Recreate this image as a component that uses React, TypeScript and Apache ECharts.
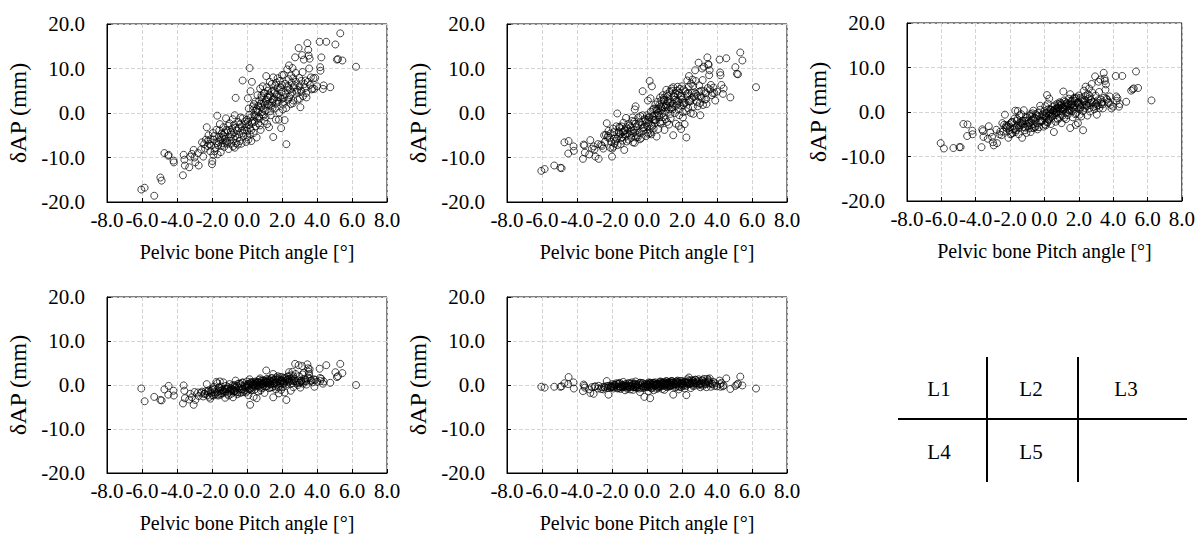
import React, { useEffect, useRef } from "react";
import * as echarts from "echarts";

// Pelvic bone pitch angle [deg] (shared by all five lumbar levels)
const pitch = [
  -6.04,-5.85,-5.30,-4.95,-4.88,-4.72,-4.48,-4.50,-4.20,-4.18,
  -3.66,-3.62,-3.58,-3.55,-3.30,-3.24,-3.05,-3.00,-2.95,-2.76,
  -2.80,-2.57,-2.45,-2.30,-2.25,-2.20,-2.10,-2.00,-1.98,-1.90,
  -1.85,-1.75,-1.70,-1.65,-1.60,-1.55,-1.50,-1.45,-1.40,-1.35,
  -1.30,-1.25,-1.20,-1.15,-1.10,-1.05,-1.00,-0.95,-0.90,-0.85,
  -0.80,-0.75,-0.70,-0.70,-0.65,-0.65,-0.55,-0.50,-0.45,-0.40,
  -0.25,-0.30,-0.25,-0.20,-0.15,-0.10,-0.05,0.00,0.00,0.05,
  0.08,0.10,0.12,0.15,0.18,0.20,0.22,0.25,0.28,0.30,
  0.35,0.38,0.40,0.45,0.50,0.55,0.60,0.62,0.65,0.70,
  0.72,0.75,0.78,0.80,0.85,0.88,0.90,0.95,1.00,1.00,
  1.05,1.10,1.12,1.15,1.20,1.25,1.30,1.32,1.35,1.40,
  1.45,1.50,1.50,1.55,1.60,1.62,1.65,1.70,1.75,1.80,
  1.82,1.85,1.90,1.95,2.00,2.00,2.05,2.05,2.10,2.15,
  2.20,2.25,2.30,2.35,2.40,2.45,2.50,2.55,2.60,2.65,
  2.75,2.80,2.85,2.95,3.00,3.05,3.10,3.15,3.20,3.25,
  3.30,3.35,3.40,3.45,3.50,3.52,3.55,3.60,3.65,3.75,
  3.80,3.85,3.90,4.00,4.15,4.18,4.20,4.25,4.34,4.38,
  4.53,4.76,5.05,5.14,5.20,5.33,5.45,6.23,-2.35,-2.15,
  -1.95,-1.80,-1.62,-1.42,-1.28,-1.12,-0.92,-0.78,-0.58,-0.42,
  -0.22,-0.02,0.32,0.52,0.68,0.92,1.08,1.22,1.38,1.58,
  1.72,1.92,2.12,2.28,2.48,2.68,2.90,3.12,-2.62,-3.15,
  -2.40,-2.22,-2.05,-1.88,-1.72,-1.58,-1.48,-1.38,-1.22,-1.08,
  -0.98,-0.88,-0.72,-0.62,-0.48,-0.38,-0.28,-0.12,0.02,0.14,
  0.24,0.34,0.44,0.48,0.58,0.64,0.74,0.82,0.86,0.96,
  1.02,1.06,1.14,1.18,1.28,1.34,1.42,1.48,1.54,1.64,
  1.68,1.78,1.84,1.88,1.98,2.08,2.18,2.24,2.32,2.38,
  2.42,2.52,2.58,2.62,2.72,2.78,2.88,2.98,3.08,3.18,
  3.28,3.38,3.48,3.58,3.70,-1.92,-1.52,-1.18,-0.68,-0.32,
  0.06,0.42,0.78,1.16,1.46,1.76,2.02,2.36,2.64,3.02,
  -2.50,-2.08,-1.68,-1.32,-0.82,-0.52,0.16,0.56,0.94,1.26,
];

// δAP (mm) per level
const apL1 = [
  -17.2,-16.8,-18.6,-14.5,-15.2,-9.0,-9.4,-9.6,-10.7,-11.1,
  -14.0,-9.4,-10.5,-11.8,-12.2,-9.8,-8.3,-10.0,-11.1,-11.8,
  -9.0,-6.6,-7.0,-3.2,-7.4,-5.0,-8.6,-11.5,-10.8,-6.0,
  -8.6,-3.8,-0.6,-7.2,-5.4,-2.5,-8.8,-4.6,-6.8,-3.2,
  -7.6,-5.8,-1.2,-6.3,-4.0,-8.1,-2.3,-5.3,-6.9,-3.5,
  -7.5,-4.4,-0.5,-7.8,-3.3,3.4,-5.6,-2.0,-4.8,-6.3,
  7.3,-3.0,-1.2,-5.2,-3.8,-2.5,-6.5,-1.5,-4.0,3.3,
  -6.0,1.0,-2.7,10.1,-3.5,4.9,-1.0,-6.3,7.0,-2.2,
  0.8,-4.5,2.0,-0.8,-3.0,-5.5,4.0,0.3,-2.3,2.8,
  -1.2,5.5,-3.8,1.3,3.5,-0.3,6.0,2.2,4.5,-1.8,
  0.5,8.3,3.0,-2.5,5.0,1.8,7.0,3.8,-0.5,4.8,
  2.3,8.0,-5.4,3.2,1.0,6.2,-1.5,4.2,7.8,2.5,
  -1.5,5.3,3.5,-3.4,8.5,6.3,0.8,1.9,8.6,-1.6,
  4.2,-7.0,9.8,3.0,10.7,5.3,2.0,6.8,10.1,2.8,
  12.5,7.0,4.8,14.6,6.0,1.3,7.2,13.0,3.8,12.0,
  5.6,7.3,3.5,15.7,14.2,12.9,10.0,6.3,8.0,5.5,
  7.8,5.4,7.9,6.0,16.0,10.3,9.5,12.5,5.4,6.2,
  16.0,5.8,15.4,12.0,12.1,17.9,11.8,10.4,-6.0,-7.0,
  -4.5,-7.8,-6.5,-5.6,-4.4,-6.9,-4.2,-5.9,-3.9,-2.6,
  -4.6,-3.2,-1.8,0.5,-0.8,1.0,2.6,3.5,1.6,4.5,
  2.8,5.8,3.5,6.0,4.0,5.8,3.0,4.8,-8.2,-9.2,
  -8.0,-6.2,-7.3,-5.2,-6.8,-3.9,-7.4,-4.9,-6.6,-2.9,
  -6.2,-4.8,-2.6,-6.8,-3.4,-1.0,-4.0,-1.9,-5.4,-0.4,
  -3.9,1.5,-2.0,2.6,-1.2,1.6,-2.8,3.9,0.2,4.4,
  1.8,-0.9,5.8,2.0,4.1,0.4,6.5,3.0,5.0,2.1,
  6.8,3.6,0.1,7.2,4.7,2.5,6.6,1.1,5.1,7.6,
  3.6,8.4,4.6,2.2,6.2,9.0,5.2,7.9,5.0,9.2,
  6.5,4.5,7.0,12.2,5.3,-9.4,-6.1,-3.8,-5.2,-6.9,
  -2.0,-0.4,2.1,3.6,1.2,5.6,3.2,5.8,7.8,3.2,
  -9.8,-5.9,-9.3,-5.3,-1.4,-7.1,-4.8,0.9,-0.6,-3.2,
];
const apL2 = [
  -13.0,-12.6,-11.8,-12.3,-12.4,-6.6,-6.3,-9.1,-7.5,-8.5,
  -10.3,-7.1,-7.3,-8.9,-9.3,-6.1,-7.5,-8.2,-9.8,-10.3,
  -7.0,-7.4,-5.0,-2.3,-5.5,-4.0,-7.8,-9.8,-8.0,-5.8,
  -6.9,-3.0,-0.1,-5.3,-4.5,-3.3,-7.0,-3.0,-6.2,-2.2,
  -8.3,-4.8,-1.1,-6.4,-3.6,-6.0,-2.8,-4.2,-5.6,-1.8,
  -6.6,-3.8,0.8,-6.7,-2.4,1.5,-5.0,-1.0,-4.4,-5.9,
  4.9,-2.7,-0.5,-4.0,-3.2,-1.6,-5.2,-0.5,-3.0,2.8,
  -4.7,-1.0,-2.0,7.2,-4.5,3.3,0.3,-4.8,6.0,-2.9,
  -1.5,-3.5,1.0,-2.3,-1.5,-5.3,2.5,0.0,-3.6,1.8,
  -1.0,3.5,-2.4,0.6,1.0,-1.9,4.0,2.9,3.0,-3.8,
  0.3,5.2,2.0,-2.0,3.8,0.8,4.8,2.2,-1.2,5.5,
  1.3,5.8,-5.0,3.6,0.0,4.4,-2.4,2.7,5.9,0.8,
  -2.9,4.5,1.7,-3.6,6.0,3.0,-1.0,0.2,5.3,-2.5,
  2.3,-5.5,7.3,1.1,8.3,3.0,0.0,4.5,7.5,-0.2,
  9.6,4.3,2.5,11.3,4.8,-0.5,5.0,10.0,1.8,10.4,
  3.0,4.5,2.0,12.5,11.0,10.8,8.5,5.3,6.3,4.5,
  5.7,4.5,2.8,4.8,12.0,9.1,8.5,6.3,4.3,5.5,
  12.3,3.5,10.3,8.8,8.7,13.6,11.8,5.8,-4.9,-5.6,
  -3.5,-6.3,-4.2,-5.4,-3.9,-4.6,-3.2,-4.5,-3.0,-2.0,
  -3.3,-2.2,-0.8,0.9,-0.5,1.4,1.6,2.6,1.0,3.0,
  1.9,3.8,2.2,4.3,2.6,3.6,1.5,3.3,-7.1,-8.0,
  -6.5,-5.1,-6.5,-4.3,-5.8,-3.1,-5.7,-4.2,-5.3,-2.5,
  -4.9,-4.0,-1.9,-5.5,-2.6,-0.7,-3.5,-1.3,-4.4,-0.9,
  -2.7,0.8,-1.6,1.9,-0.6,1.0,-2.1,2.8,-0.2,3.4,
  1.2,-1.4,4.2,1.3,3.1,-0.2,5.0,2.1,3.9,1.6,
  5.0,2.6,-0.5,5.4,3.6,1.8,4.9,0.4,3.8,5.9,
  2.7,6.6,3.4,1.4,4.6,7.2,3.8,6.2,3.7,7.4,
  4.9,3.1,5.6,9.6,4.0,-7.6,-4.7,-3.2,-4.4,-5.6,
  -1.5,-0.6,1.5,2.7,0.8,4.1,2.4,4.5,6.1,2.2,
  -8.0,-4.6,-7.2,-4.1,-1.0,-5.4,-3.7,0.6,-0.9,-2.6,
];
const apL3 = [
  -7.0,-8.2,-8.1,-7.9,-7.9,-2.7,-2.8,-5.4,-4.2,-5.0,
  -7.9,-3.9,-4.3,-5.6,-6.0,-3.2,-5.6,-6.8,-7.5,-7.0,
  -4.0,-4.4,-2.5,-0.6,-3.4,-3.6,-5.8,-3.4,-5.0,-2.2,
  -4.7,-1.5,0.3,-4.1,-2.0,0.2,-5.0,-0.8,-3.0,-0.5,
  -5.8,-2.8,0.4,-4.1,-2.0,-4.7,-1.2,-2.6,-3.7,-0.8,
  -4.5,-1.9,-0.3,-3.6,-1.6,0.3,-3.3,-0.5,-2.5,-3.9,
  1.4,-1.0,0.5,-2.2,-2.0,-0.5,-3.3,0.2,-1.5,1.3,
  -3.0,-0.3,-1.2,3.8,-2.4,1.9,0.6,-1.8,3.0,-1.5,
  -0.5,-2.7,0.5,-1.0,0.2,-4.5,1.5,-0.6,-2.2,0.8,
  0.0,1.9,-1.7,0.8,1.0,-1.3,2.2,1.5,1.7,-2.5,
  0.3,4.6,0.5,-1.3,2.3,-0.2,2.0,1.2,-0.7,1.7,
  0.3,4.0,-3.6,1.8,0.2,2.5,-1.2,1.4,3.2,-0.5,
  -2.9,3.0,1.0,-2.5,3.7,1.8,-0.6,0.6,3.2,-1.0,
  1.6,-4.1,4.8,0.9,5.7,1.7,-0.8,2.9,5.3,0.1,
  6.3,2.2,1.1,8.0,1.8,-0.6,2.6,6.8,0.9,7.3,
  1.8,2.2,0.8,8.8,7.5,7.0,5.0,3.0,2.8,2.0,
  3.5,1.6,0.8,1.2,8.1,3.5,2.5,3.1,1.2,1.8,
  8.1,2.3,4.8,5.1,5.3,9.1,5.4,2.6,-2.9,-3.2,
  -2.5,-3.9,-3.3,-2.4,-2.0,-3.5,-1.9,-3.0,-1.3,-0.8,
  -1.9,-1.0,-0.1,0.3,-0.2,0.6,1.0,1.3,0.5,1.6,
  0.6,2.1,1.0,2.5,1.3,2.0,0.6,1.5,-5.0,-4.6,
  -4.4,-3.0,-4.1,-2.3,-3.7,-1.6,-3.5,-2.5,-3.4,-1.2,
  -3.1,-2.4,-1.0,-3.6,-1.5,-0.2,-2.0,-0.6,-2.8,-0.3,
  -1.7,0.6,-0.8,1.2,-0.2,0.7,-1.4,1.7,0.1,2.0,
  0.8,-0.8,2.6,0.8,1.9,0.0,3.0,1.3,2.3,1.0,
  3.0,1.6,-0.3,3.3,2.1,1.1,2.9,0.2,2.3,3.6,
  1.6,4.0,2.0,0.9,2.7,4.4,2.2,3.7,2.1,4.5,
  2.8,1.7,3.2,6.2,2.3,-4.9,-3.0,-2.0,-2.7,-3.4,
  -0.9,-0.3,1.0,1.6,0.5,2.5,1.5,2.7,3.6,1.3,
  -5.2,-2.9,-4.5,-2.6,-0.5,-3.4,-2.2,0.4,-0.6,-1.6,
];
const apL4 = [
  -0.8,-3.7,-2.7,-3.4,-3.5,-1.0,-0.2,-2.2,-1.3,-2.4,
  -4.2,-0.1,-1.3,-3.0,-3.3,-2.0,-4.5,-1.6,-3.4,-2.5,
  -1.7,-1.5,-2.0,0.2,-2.3,-1.2,-3.1,-1.1,-2.3,-0.4,
  -1.6,0.7,0.4,-2.4,-1.3,0.8,-2.2,-0.4,-1.9,0.6,
  -1.5,-2.9,-0.2,-1.0,-0.8,-2.4,0.2,-1.3,-2.0,-0.9,
  -2.8,-1.5,0.0,-1.4,-0.6,1.0,-2.1,0.3,-1.0,-1.8,
  0.6,-0.3,0.5,-1.6,-1.3,-0.5,-1.7,0.8,-0.6,0.2,
  -2.3,0.0,-0.9,1.3,-4.5,0.7,0.4,-1.2,0.6,-0.5,
  -0.1,-2.7,0.3,-1.0,0.6,-3.0,0.7,-0.2,-1.5,1.2,
  0.5,1.5,-1.2,0.1,0.3,-0.7,1.0,0.6,0.9,-1.8,
  0.4,3.3,0.7,-0.3,1.2,0.5,0.9,0.2,-0.6,1.5,
  -0.5,2.5,-2.8,0.5,-0.3,1.3,-1.0,0.6,2.0,-0.6,
  -1.9,1.3,0.3,-1.1,1.8,0.8,0.2,-0.5,1.6,-1.7,
  0.9,-3.4,1.9,0.7,2.9,1.4,-1.3,1.2,3.0,-0.5,
  4.8,0.8,0.4,4.5,0.5,-0.6,1.0,4.3,0.3,2.8,
  0.8,1.2,0.1,4.7,3.8,3.0,2.5,1.5,0.9,0.6,
  1.3,-0.4,1.2,0.7,3.7,1.6,0.9,1.4,0.3,0.8,
  4.5,0.5,2.9,1.8,2.0,4.8,2.7,0.0,-1.4,-2.7,
  -0.8,-2.1,-0.5,-1.1,-0.9,-2.0,-0.7,-1.1,-0.2,0.3,
  -0.9,-0.2,0.1,0.4,-0.3,0.2,0.6,0.4,0.8,0.3,
  0.1,1.0,0.4,1.1,0.3,0.9,0.0,0.6,-1.8,-2.8,
  -2.0,-1.5,-1.9,-1.0,-1.7,-0.6,-1.9,-1.2,-1.6,-0.5,
  -1.5,-1.2,-0.3,-1.7,-0.6,0.2,-1.0,-0.1,-1.3,0.3,
  -0.8,0.6,-0.3,0.8,0.0,0.6,-0.6,1.0,0.2,1.1,
  0.5,-0.4,1.4,0.6,1.1,0.1,1.6,0.8,1.2,0.5,
  1.7,0.9,-0.2,1.8,1.1,0.6,1.5,0.1,1.2,2.0,
  0.9,2.2,1.0,0.4,1.4,2.5,1.1,2.0,1.0,2.4,
  1.4,0.8,1.7,3.6,1.1,-2.4,-1.4,-0.9,-1.3,-1.7,
  -0.4,0.0,0.6,0.9,0.3,1.3,0.8,1.3,2.0,0.6,
  -2.6,-1.4,-2.2,-1.2,-0.1,-1.6,-1.0,0.3,-0.2,-0.7,
];
const apL5 = [
  -0.4,-0.6,-0.4,-0.4,-0.3,0.4,1.8,0.2,0.6,-0.8,
  -1.4,0.1,-0.2,-0.6,-1.0,-1.8,-2.0,-0.4,-0.3,-0.2,
  -0.8,-0.5,-0.4,0.9,-0.7,-2.2,-0.6,-0.3,0.2,-0.5,
  -0.1,0.4,0.2,-0.7,-0.3,0.5,-0.9,0.0,-0.5,0.7,
  -0.3,-1.2,0.2,-0.6,-0.1,-0.4,0.4,-1.0,-0.2,0.6,
  -1.1,-0.5,0.3,-0.3,0.1,0.8,-0.5,0.2,-0.8,-1.6,
  0.4,0.0,0.4,-0.7,-2.7,-0.2,-0.5,0.3,-0.3,0.1,
  -1.4,0.6,-0.4,0.3,-3.0,0.5,0.2,-0.8,0.1,-0.6,
  0.1,-1.2,0.5,-0.3,-0.1,-0.9,0.3,-0.5,-0.7,0.6,
  0.0,0.8,-0.4,0.2,-0.2,-0.9,0.5,0.1,0.6,-1.1,
  0.0,0.9,0.3,-0.5,0.4,0.2,0.7,-0.3,-0.1,0.9,
  0.0,0.6,-2.2,0.3,-0.6,0.2,-0.4,0.8,1.0,-0.2,
  -1.0,0.4,0.1,-0.5,0.9,0.4,-0.2,0.3,0.7,-0.8,
  0.5,-2.3,1.3,0.2,1.7,0.4,-0.7,0.6,1.0,-0.3,
  1.2,0.4,0.8,1.3,0.2,-0.5,0.5,1.0,-0.2,1.4,
  0.3,0.6,-0.5,1.4,0.9,1.2,0.5,0.3,-0.4,0.2,
  0.7,-0.2,0.4,-0.3,1.0,0.2,-0.4,0.5,-0.3,-0.1,
  1.5,-0.9,-0.2,0.1,0.3,1.9,-0.1,-0.8,-0.3,-0.2,
  -0.4,0.0,0.3,-0.4,0.1,-0.9,0.3,-0.5,-0.1,0.5,
  -0.4,0.0,0.3,0.1,-0.3,0.4,0.2,-0.1,0.5,0.1,
  0.4,0.3,-0.1,0.6,0.2,0.3,-0.1,0.1,-0.9,-0.5,
  -0.6,-0.2,-0.5,0.1,-0.4,0.3,-0.6,-0.1,-0.4,0.4,
  -0.5,-0.2,0.2,-0.6,0.0,0.5,-0.3,0.2,-0.5,0.4,
  -0.2,0.5,-0.1,0.6,0.1,0.3,-0.3,0.7,0.1,0.6,
  0.3,-0.3,0.8,0.2,0.5,-0.1,0.9,0.4,0.6,0.2,
  0.8,0.4,-0.4,0.9,0.5,0.2,0.7,-0.2,0.5,1.0,
  0.3,1.1,0.4,0.0,0.6,1.2,0.4,0.9,0.3,1.1,
  0.6,0.2,0.7,1.5,0.3,-0.8,-0.4,-0.2,-0.5,-0.6,
  0.0,0.1,0.4,0.5,0.0,0.6,0.3,0.6,0.9,0.2,
  -1.0,-0.4,-0.8,-0.3,0.1,-0.6,-0.4,0.2,-0.1,-0.3,
];

const levelNames = ["L1", "L2", "L3", "L4", "L5"];
const levelValues = [apL1, apL2, apL3, apL4, apL5];
const xTitle = "Pelvic bone Pitch angle [°]";
const yTitle = "δAP (mm)";

const FONT = "'Liberation Serif', 'Times New Roman', serif";

const gridBoxes = [
  { left: 107, top: 24, width: 280, height: 178 },
  { left: 507, top: 24, width: 280, height: 178 },
  { left: 907, top: 23, width: 280, height: 178 },
  { left: 107, top: 297, width: 280, height: 177 },
  { left: 507, top: 297, width: 280, height: 177 },
];

export default function App() {
  const ref = useRef<HTMLDivElement>(null);
  useEffect(() => {
    if (!ref.current) return;
    const chart = echarts.init(ref.current, null, { renderer: "svg" });
    const fmt = (v: number) => v.toFixed(1);
    const grid = gridBoxes.map((g) => ({
      ...g,
      show: true,
      borderColor: "#000",
      borderWidth: 1,
      backgroundColor: "transparent",
      containLabel: false,
    }));
    const xAxis = gridBoxes.map((_, i) => ({
      type: "value",
      gridIndex: i,
      min: -8,
      max: 8,
      interval: 2,
      name: xTitle,
      nameLocation: "middle",
      nameGap: 40,
      nameTextStyle: { fontFamily: FONT, fontSize: 20, color: "#000" },
      axisLine: { show: true, onZero: false, lineStyle: { color: "#000", width: 1 } },
      axisTick: { show: true, inside: true, length: 4, lineStyle: { color: "#000" } },
      axisLabel: {
        show: true,
        fontFamily: FONT,
        fontSize: 21,
        color: "#000",
        margin: 7,
        showMinLabel: true,
        showMaxLabel: true,
        hideOverlap: false,
        formatter: fmt,
      },
      splitLine: { show: true, lineStyle: { color: "#d4d4d4", type: "dashed", width: 1 } },
    }));
    const yAxis = gridBoxes.map((_, i) => ({
      type: "value",
      gridIndex: i,
      min: -20,
      max: 20,
      interval: 10,
      name: yTitle,
      nameLocation: "middle",
      nameGap: 77,
      nameRotate: 90,
      nameTextStyle: { fontFamily: FONT, fontSize: 24, color: "#000" },
      axisLine: { show: true, onZero: false, lineStyle: { color: "#000", width: 1 } },
      axisTick: { show: true, inside: true, length: 4, lineStyle: { color: "#000" } },
      axisLabel: {
        show: true,
        fontFamily: FONT,
        fontSize: 21,
        color: "#000",
        margin: 22,
        showMinLabel: true,
        showMaxLabel: true,
        formatter: fmt,
      },
      splitLine: { show: true, lineStyle: { color: "#d4d4d4", type: "dashed", width: 1 } },
    }));
    const series = levelValues.map((vals, i) => ({
      type: "scatter",
      name: levelNames[i],
      xAxisIndex: i,
      yAxisIndex: i,
      symbol: "circle",
      symbolSize: 7,
      itemStyle: { color: "rgba(255,255,255,0)", borderColor: "#000", borderWidth: 0.9 },
      data: pitch.map((x, j) => [x, vals[j]]),
    }));
    const lineStyle = { stroke: "#000", lineWidth: 2 };
    const textEl = (t: string, x: number, y: number) => ({
      type: "text",
      x,
      y,
      style: { text: t, fontFamily: FONT, fontSize: 21, fill: "#000", align: "center", verticalAlign: "middle" },
    });
    chart.setOption({
      animation: false,
      backgroundColor: "#fff",
      textStyle: { fontFamily: FONT, color: "#000" },
      grid,
      xAxis,
      yAxis,
      series,
      graphic: [
        { type: "line", shape: { x1: 987, y1: 357, x2: 987, y2: 482 }, style: lineStyle },
        { type: "line", shape: { x1: 1078, y1: 357, x2: 1078, y2: 482 }, style: lineStyle },
        { type: "line", shape: { x1: 898, y1: 419, x2: 1187, y2: 419 }, style: lineStyle },
        textEl(levelNames[0], 939, 389),
        textEl(levelNames[1], 1031, 389),
        textEl(levelNames[2], 1126, 389),
        textEl(levelNames[3], 939, 452),
        textEl(levelNames[4], 1031, 452),
      ],
    });
    return () => chart.dispose();
  }, []);
  return (
    <div
      ref={ref}
      style={{ position: "absolute", left: 0, top: 0, width: 1198, height: 534 }}
    />
  );
}
